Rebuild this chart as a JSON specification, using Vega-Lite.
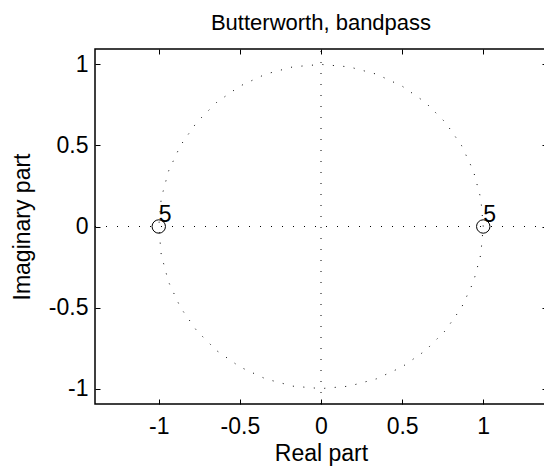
{
  "$schema": "https://vega.github.io/schema/vega-lite/v6.json",
  "autosize": "none",
  "width": 452,
  "height": 355,
  "padding": {"left": 95, "top": 49, "right": 0, "bottom": 64},
  "background": "white",
  "config": {
    "view": {"stroke": "black", "strokeWidth": 1.5},
    "font": "Liberation Sans",
    "axis": {
      "grid": false,
      "domain": false,
      "tickColor": "black",
      "tickSize": -5,
      "tickWidth": 1,
      "labelColor": "black",
      "labelFontSize": 23,
      "labelFont": "Liberation Sans",
      "titleColor": "black",
      "titleFontSize": 23,
      "titleFontWeight": "normal",
      "titleFont": "Liberation Sans"
    }
  },
  "title": {
    "text": "Butterworth, bandpass",
    "fontSize": 22,
    "fontWeight": "normal",
    "font": "Liberation Sans",
    "color": "black",
    "offset": 14
  },
  "datasets": {
    "circle": [
      {"i": 0, "x": 1, "y": 0},
      {"i": 10, "x": 0.9848, "y": 0.1736},
      {"i": 20, "x": 0.9397, "y": 0.342},
      {"i": 30, "x": 0.866, "y": 0.5},
      {"i": 40, "x": 0.766, "y": 0.6428},
      {"i": 50, "x": 0.6428, "y": 0.766},
      {"i": 60, "x": 0.5, "y": 0.866},
      {"i": 70, "x": 0.342, "y": 0.9397},
      {"i": 80, "x": 0.1736, "y": 0.9848},
      {"i": 90, "x": 0, "y": 1},
      {"i": 100, "x": -0.1736, "y": 0.9848},
      {"i": 110, "x": -0.342, "y": 0.9397},
      {"i": 120, "x": -0.5, "y": 0.866},
      {"i": 130, "x": -0.6428, "y": 0.766},
      {"i": 140, "x": -0.766, "y": 0.6428},
      {"i": 150, "x": -0.866, "y": 0.5},
      {"i": 160, "x": -0.9397, "y": 0.342},
      {"i": 170, "x": -0.9848, "y": 0.1736},
      {"i": 180, "x": -1, "y": 0},
      {"i": 190, "x": -0.9848, "y": -0.1736},
      {"i": 200, "x": -0.9397, "y": -0.342},
      {"i": 210, "x": -0.866, "y": -0.5},
      {"i": 220, "x": -0.766, "y": -0.6428},
      {"i": 230, "x": -0.6428, "y": -0.766},
      {"i": 240, "x": -0.5, "y": -0.866},
      {"i": 250, "x": -0.342, "y": -0.9397},
      {"i": 260, "x": -0.1736, "y": -0.9848},
      {"i": 270, "x": 0, "y": -1},
      {"i": 280, "x": 0.1736, "y": -0.9848},
      {"i": 290, "x": 0.342, "y": -0.9397},
      {"i": 300, "x": 0.5, "y": -0.866},
      {"i": 310, "x": 0.6428, "y": -0.766},
      {"i": 320, "x": 0.766, "y": -0.6428},
      {"i": 330, "x": 0.866, "y": -0.5},
      {"i": 340, "x": 0.9397, "y": -0.342},
      {"i": 350, "x": 0.9848, "y": -0.1736},
      {"i": 360, "x": 1, "y": 0}
    ],
    "hline": [{"x": -1.393, "x2": 1.393, "y": 0}],
    "vline": [{"x": 0, "y": -1.095, "y2": 1.095}],
    "zeros": [
      {"re": -1, "im": 0, "mult": "5"},
      {"re": 1, "im": 0, "mult": "5"}
    ]
  },
  "layer": [
    {
      "data": {"name": "circle"},
      "mark": {"type": "line", "color": "black", "strokeWidth": 1, "strokeDash": [1, 9.5]},
      "encoding": {
        "x": {"field": "x", "type": "quantitative",
          "scale": {"domain": [-1.393, 1.393], "nice": false, "zero": false},
          "axis": {"orient": "bottom", "values": [-1, -0.5, 0, 0.5, 1], "labelExpr": "datum.value + ''",
            "title": "Real part", "labelPadding": 16, "titleY": 56, "titleBaseline": "alphabetic"}},
        "y": {"field": "y", "type": "quantitative",
          "scale": {"domain": [-1.095, 1.095], "nice": false, "zero": false},
          "axis": {"orient": "left", "values": [-1, -0.5, 0, 0.5, 1], "labelExpr": "datum.value + ''",
            "title": "Imaginary part", "labelPadding": 12, "titleX": -66, "titleBaseline": "alphabetic"}},
        "order": {"field": "i", "type": "quantitative"}
      }
    },
    {
      "data": {"name": "hline"},
      "mark": {"type": "rule", "color": "black", "strokeWidth": 1, "strokeDash": [1, 10]},
      "encoding": {
        "x": {"field": "x", "type": "quantitative", "axis": null},
        "x2": {"field": "x2"},
        "y": {"field": "y", "type": "quantitative", "axis": null}
      }
    },
    {
      "data": {"name": "vline"},
      "mark": {"type": "rule", "color": "black", "strokeWidth": 1, "strokeDash": [1, 10]},
      "encoding": {
        "x": {"field": "x", "type": "quantitative", "axis": null},
        "y": {"field": "y", "type": "quantitative", "axis": null},
        "y2": {"field": "y2"}
      }
    },
    {
      "data": {"name": "zeros"},
      "mark": {"type": "point", "shape": "circle", "size": 180, "filled": false, "stroke": "black", "strokeWidth": 1, "opacity": 1},
      "encoding": {
        "x": {"field": "re", "type": "quantitative",
          "axis": {"orient": "top", "values": [-1, -0.5, 0, 0.5, 1], "labels": false, "title": null}},
        "y": {"field": "im", "type": "quantitative",
          "axis": {"orient": "right", "values": [-1, -0.5, 0, 0.5, 1], "labels": false, "title": null}}
      }
    },
    {
      "data": {"name": "zeros"},
      "mark": {"type": "text", "align": "left", "baseline": "alphabetic", "dx": 0, "dy": -5, "fontSize": 23, "font": "Liberation Sans", "color": "black"},
      "encoding": {
        "x": {"field": "re", "type": "quantitative", "axis": null},
        "y": {"field": "im", "type": "quantitative", "axis": null},
        "text": {"field": "mult"}
      }
    }
  ],
  "resolve": {"axis": {"x": "independent", "y": "independent"}}
}
